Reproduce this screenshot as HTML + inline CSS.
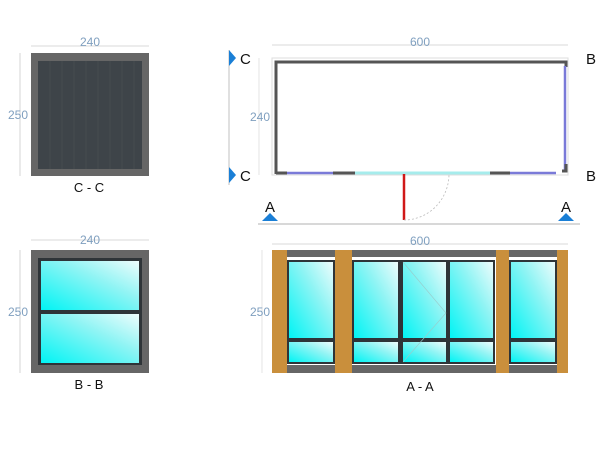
<!DOCTYPE html>
<html><head><style>
body{margin:0;background:#fff;width:600px;height:450px;overflow:hidden}
svg text{font-family:"Liberation Sans",sans-serif}
</style></head><body>
<svg width="600" height="450" viewBox="0 0 600 450">
<defs>
<linearGradient id="g" x1="0" y1="1" x2="1" y2="0">
<stop offset="0" stop-color="#00f4f4"/><stop offset="0.6" stop-color="#8ef4f4"/><stop offset="1" stop-color="#eefcfc"/>
</linearGradient>
</defs>
<!-- C-C -->
<line x1="31" y1="46" x2="149" y2="46" stroke="#ccc" stroke-width="0.8"/>
<text x="90" y="46" font-size="12" fill="#7f9fbf" text-anchor="middle">240</text>
<line x1="20" y1="53" x2="20" y2="176" stroke="#ccc" stroke-width="0.8"/>
<text x="18" y="119" font-size="12" fill="#7f9fbf" text-anchor="middle">250</text>
<rect x="31" y="53" width="118" height="123" fill="#666"/>
<rect x="38" y="61" width="104" height="108" fill="#3e4449"/>
<g stroke="#454b50" stroke-width="1">
<line x1="50" y1="61" x2="50" y2="169"/><line x1="62" y1="61" x2="62" y2="169"/><line x1="74" y1="61" x2="74" y2="169"/><line x1="86" y1="61" x2="86" y2="169"/><line x1="98" y1="61" x2="98" y2="169"/><line x1="110" y1="61" x2="110" y2="169"/><line x1="122" y1="61" x2="122" y2="169"/><line x1="134" y1="61" x2="134" y2="169"/>
</g>
<text x="89" y="192" font-size="13" fill="#111" text-anchor="middle">C - C</text>
<!-- B-B -->
<line x1="31" y1="240" x2="149" y2="240" stroke="#ccc" stroke-width="0.8"/>
<text x="90" y="244" font-size="12" fill="#7f9fbf" text-anchor="middle">240</text>
<line x1="20" y1="250" x2="20" y2="373" stroke="#ccc" stroke-width="0.8"/>
<text x="18" y="316" font-size="12" fill="#7f9fbf" text-anchor="middle">250</text>
<rect x="31" y="250" width="118" height="123" fill="#666"/>
<rect x="38" y="258" width="104" height="107" fill="#2e3438"/>
<rect x="41" y="261" width="98" height="49" fill="url(#g)"/>
<rect x="41" y="314" width="98" height="49" fill="url(#g)"/>
<text x="89" y="389" font-size="13" fill="#111" text-anchor="middle">B - B</text>
<!-- Plan -->
<line x1="272" y1="45" x2="568" y2="45" stroke="#ccc" stroke-width="0.8"/>
<text x="420" y="46" font-size="12" fill="#7f9fbf" text-anchor="middle">600</text>
<line x1="229" y1="50" x2="229" y2="185" stroke="#ccc" stroke-width="1.2"/>
<line x1="259" y1="58" x2="259" y2="175" stroke="#ddd" stroke-width="0.8"/>
<text x="260" y="121" font-size="12" fill="#7f9fbf" text-anchor="middle">240</text>
<rect x="272" y="58" width="296" height="117" fill="none" stroke="#ddd" stroke-width="1"/>
<path d="M276 174 V62 H566 V67" fill="none" stroke="#555" stroke-width="3"/>
<line x1="565" y1="66" x2="565" y2="170" stroke="#7a7ad8" stroke-width="2.5"/>
<path d="M562 171 H566 V164" fill="none" stroke="#555" stroke-width="3"/>
<line x1="276" y1="173" x2="287" y2="173" stroke="#555" stroke-width="3"/>
<line x1="287" y1="173" x2="333" y2="173" stroke="#7a7ad8" stroke-width="2.5"/>
<line x1="333" y1="173" x2="355" y2="173" stroke="#555" stroke-width="3"/>
<line x1="355" y1="173" x2="490" y2="173" stroke="#a6ecec" stroke-width="3"/>
<line x1="490" y1="173" x2="510" y2="173" stroke="#555" stroke-width="3"/>
<line x1="510" y1="173" x2="556" y2="173" stroke="#7a7ad8" stroke-width="2.5"/>
<line x1="404" y1="174" x2="404" y2="220" stroke="#d01818" stroke-width="2.5"/>
<path d="M404 220 A45 46 0 0 0 449 174" fill="none" stroke="#bbb" stroke-width="0.8" stroke-dasharray="2,2"/>
<line x1="258" y1="224" x2="580" y2="224" stroke="#ccc" stroke-width="1.5"/>
<polygon points="229,50 236,58 229,66" fill="#1a7fd6"/>
<polygon points="229,167 236,175 229,183" fill="#1a7fd6"/>
<text x="240" y="64" font-size="15" fill="#111">C</text>
<text x="240" y="181" font-size="15" fill="#111">C</text>
<text x="586" y="64" font-size="15" fill="#111">B</text>
<text x="586" y="181" font-size="15" fill="#111">B</text>
<text x="270" y="212" font-size="15" fill="#111" text-anchor="middle">A</text>
<text x="566" y="212" font-size="15" fill="#111" text-anchor="middle">A</text>
<polygon points="262,221 270,213 278,221" fill="#1a7fd6"/>
<polygon points="558,221 566,213 574,221" fill="#1a7fd6"/>
<!-- A-A -->
<line x1="272" y1="244" x2="568" y2="244" stroke="#ccc" stroke-width="0.8"/>
<text x="420" y="245" font-size="12" fill="#7f9fbf" text-anchor="middle">600</text>
<line x1="262" y1="250" x2="262" y2="373" stroke="#ddd" stroke-width="0.8"/>
<text x="260" y="316" font-size="12" fill="#7f9fbf" text-anchor="middle">250</text>
<rect x="272" y="250" width="296" height="7" fill="#666"/>
<rect x="272" y="365" width="296" height="8" fill="#666"/>
<rect x="272" y="257" width="296" height="2" fill="#fff"/>
<g fill="#2e3438">
<rect x="287" y="260" width="48" height="104"/>
<rect x="352" y="260" width="143" height="104"/>
<rect x="509" y="260" width="48" height="104"/>
</g>
<g fill="url(#g)">
<rect x="289" y="262" width="44" height="76"/><rect x="289" y="342" width="44" height="20"/>
<rect x="354" y="262" width="44" height="76"/><rect x="354" y="342" width="44" height="20"/>
<rect x="403" y="262" width="43" height="76"/><rect x="403" y="342" width="43" height="20"/>
<rect x="450" y="262" width="43" height="76"/><rect x="450" y="342" width="43" height="20"/>
<rect x="511" y="262" width="44" height="76"/><rect x="511" y="342" width="44" height="20"/>
</g>
<path d="M403 262 L446 313 L403 362" fill="none" stroke="#9cc" stroke-width="0.6"/>
<g fill="#c98f3c">
<rect x="272" y="250" width="15" height="123"/>
<rect x="335" y="250" width="17" height="123"/>
<rect x="496" y="250" width="13" height="123"/>
<rect x="557" y="250" width="11" height="123"/>
</g>
<text x="420" y="391" font-size="13" fill="#111" text-anchor="middle">A - A</text>
</svg>
</body></html>
